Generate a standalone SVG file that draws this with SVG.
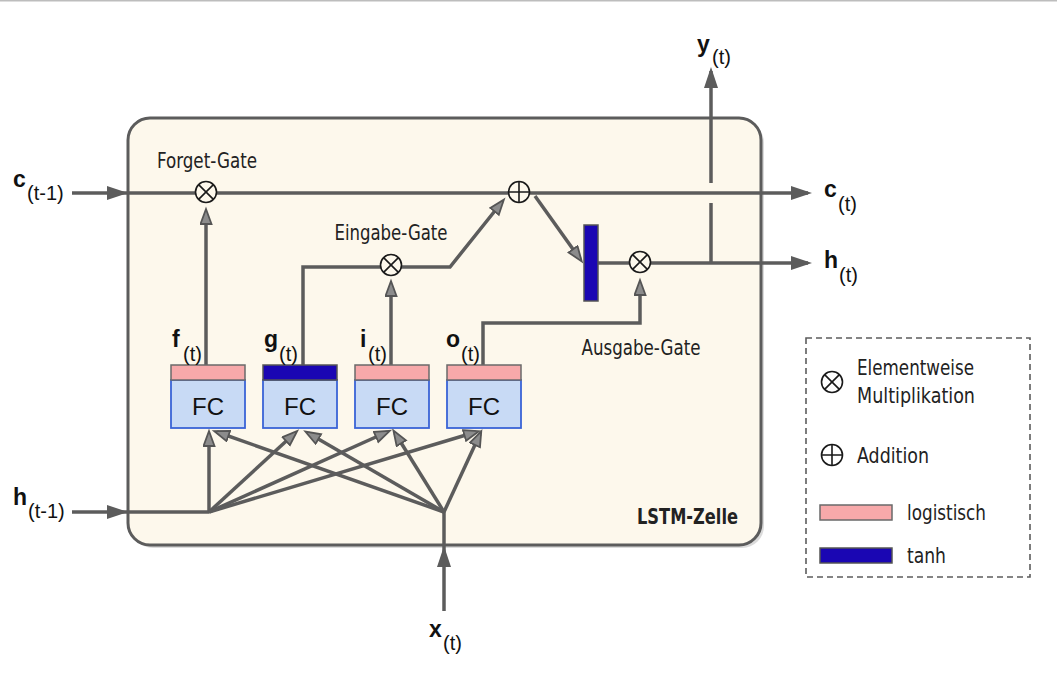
<svg xmlns="http://www.w3.org/2000/svg" width="1057" height="688" viewBox="0 0 1057 688">
  <style>
    .wire { fill: none; stroke: #5c5c5c; stroke-width: 3.5; stroke-linejoin: miter; }
    .op { fill: #fdf8ec; stroke: #1a1a1a; stroke-width: 1.6; }
    .opw { fill: #ffffff; stroke: #1a1a1a; stroke-width: 1.6; }
    .sym { stroke: #1a1a1a; stroke-width: 1.6; }
    .gate { font-family: "Liberation Sans Narrow", "DejaVu Sans Condensed", "Liberation Sans", sans-serif; font-size: 21px; fill: #222; }
    .var { font-family: "Liberation Sans", Arial, sans-serif; font-size: 23px; font-weight: bold; fill: #111; }
    .sub { font-family: "Liberation Sans", Arial, sans-serif; font-size: 20px; fill: #111; }
    .fc { font-family: "Liberation Sans", Arial, sans-serif; font-size: 24px; fill: #111; text-anchor: middle; }
    .band-sig { fill: #f7a9aa; stroke: #6a6a6a; stroke-width: 1.5; }
    .band-tanh { fill: #1a06b3; stroke: #555; stroke-width: 1.5; }
    .body { fill: #c8daf5; stroke: #3a63d6; stroke-width: 1.8; }
  </style>
  <defs>
    <marker id="arrowOut" markerUnits="userSpaceOnUse" markerWidth="22" markerHeight="16" refX="17" refY="7" orient="auto">
      <path d="M0,0 L21,7 L0,14 z" fill="#5c5c5c"/>
    </marker>
    <marker id="arrowIn" markerUnits="userSpaceOnUse" markerWidth="20" markerHeight="16" refX="13" refY="6.5" orient="auto">
      <path d="M1,1 L16,6.5 L1,12 z" fill="#8c8c8c" stroke="#555" stroke-width="1.8" stroke-linejoin="miter"/>
    </marker>
  </defs>

  <rect width="1057" height="688" fill="#ffffff"/>
  <line x1="0" y1="0.8" x2="1057" y2="0.8" stroke="#bdbdbd" stroke-width="1.6"/>

  <!-- LSTM cell body -->
  <g id="cell">
    <rect x="131" y="121" width="633" height="427" rx="22" fill="#b8b8b8" opacity="0.5"/>
    <rect x="128" y="118" width="633" height="427" rx="22" fill="#fdf8ec" stroke="#5c5c5c" stroke-width="3"/>
    <text x="738" y="524" text-anchor="end" class="gate" style="font-weight:bold" textLength="101" lengthAdjust="spacingAndGlyphs">LSTM-Zelle</text>
  </g>

  <!-- connectors -->
  <g id="connectors">
    <!-- cell state -->
    <line class="wire" x1="72" y1="193" x2="124" y2="193" marker-end="url(#arrowOut)"/>
    <line class="wire" x1="124" y1="193" x2="519" y2="193"/>
    <line class="wire" x1="519" y1="193" x2="808" y2="193" marker-end="url(#arrowOut)"/>
    <!-- hidden state in -->
    <line class="wire" x1="72" y1="512" x2="124" y2="512" marker-end="url(#arrowOut)"/>
    <line class="wire" x1="124" y1="512" x2="209" y2="512"/>
    <!-- input x -->
    <line class="wire" x1="444" y1="611" x2="444" y2="550" marker-end="url(#arrowOut)"/>
    <line class="wire" x1="444" y1="550" x2="444" y2="512"/>
    <!-- fan-out from h(t-1) -->
    <line class="wire" x1="209" y1="512" x2="209" y2="434" marker-end="url(#arrowIn)"/>
    <line class="wire" x1="209" y1="512" x2="295" y2="433" marker-end="url(#arrowIn)"/>
    <line class="wire" x1="209" y1="512" x2="387" y2="432" marker-end="url(#arrowIn)"/>
    <line class="wire" x1="209" y1="512" x2="476" y2="432" marker-end="url(#arrowIn)"/>
    <!-- fan-out from x(t) -->
    <line class="wire" x1="444" y1="512" x2="217" y2="432" marker-end="url(#arrowIn)"/>
    <line class="wire" x1="444" y1="512" x2="308" y2="433" marker-end="url(#arrowIn)"/>
    <line class="wire" x1="444" y1="512" x2="395" y2="433" marker-end="url(#arrowIn)"/>
    <line class="wire" x1="444" y1="512" x2="480" y2="434" marker-end="url(#arrowIn)"/>
    <!-- forget gate -->
    <line class="wire" x1="206" y1="365" x2="206" y2="212" marker-end="url(#arrowIn)"/>
    <!-- g path to input gate -->
    <polyline class="wire" points="303,365 303,267 450,267 502,202" marker-end="url(#arrowIn)"/>
    <!-- input gate -->
    <line class="wire" x1="391" y1="365" x2="391" y2="284" marker-end="url(#arrowIn)"/>
    <!-- output gate -->
    <polyline class="wire" points="483,365 483,323 640,323 640,283" marker-end="url(#arrowIn)"/>
    <!-- cell state to tanh -->
    <line class="wire" x1="535" y1="196" x2="580" y2="259" marker-end="url(#arrowIn)"/>
    <!-- hidden state out -->
    <line class="wire" x1="598" y1="263" x2="808" y2="263" marker-end="url(#arrowOut)"/>
    <!-- output y -->
    <line class="wire" x1="711" y1="263" x2="711" y2="203"/>
    <line class="wire" x1="711" y1="183" x2="711" y2="71" marker-end="url(#arrowOut)"/>
  </g>

  <!-- operators -->
  <g id="forget-mul">
    <circle class="op" cx="206" cy="192" r="10.5"/>
    <path class="sym" d="M198.6,184.6 L213.4,199.4 M213.4,184.6 L198.6,199.4"/>
    <text x="207" y="168" text-anchor="middle" class="gate" textLength="100" lengthAdjust="spacingAndGlyphs">Forget-Gate</text>
  </g>
  <g id="input-mul">
    <circle class="op" cx="391" cy="265" r="10.5"/>
    <path class="sym" d="M383.6,257.6 L398.4,272.4 M398.4,257.6 L383.6,272.4"/>
    <text x="391" y="240" text-anchor="middle" class="gate" textLength="113" lengthAdjust="spacingAndGlyphs">Eingabe-Gate</text>
  </g>
  <g id="add">
    <circle class="op" cx="519" cy="192" r="10.5"/>
    <path class="sym" d="M508.5,192 L529.5,192 M519,181.5 L519,202.5"/>
  </g>
  <g id="tanh-bar">
    <rect x="584" y="225" width="14" height="76" class="band-tanh"/>
  </g>
  <g id="output-mul">
    <circle class="op" cx="640" cy="262" r="10.5"/>
    <path class="sym" d="M632.6,254.6 L647.4,269.4 M647.4,254.6 L632.6,269.4"/>
    <text x="641" y="355" text-anchor="middle" class="gate" textLength="119" lengthAdjust="spacingAndGlyphs">Ausgabe-Gate</text>
  </g>

  <!-- fully connected layers -->
  <g id="fc-f">
    <rect x="171" y="380" width="74" height="48" class="body"/>
    <rect x="171" y="365" width="74" height="15" class="band-sig"/>
    <text x="208" y="415" class="fc">FC</text>
    <text x="172" y="347" class="var">f</text><text x="183" y="361" class="sub">(t)</text>
  </g>
  <g id="fc-g">
    <rect x="263" y="380" width="74" height="48" class="body"/>
    <rect x="263" y="365" width="74" height="15" class="band-tanh"/>
    <text x="300" y="415" class="fc">FC</text>
    <text x="264" y="347" class="var">g</text><text x="279" y="361" class="sub">(t)</text>
  </g>
  <g id="fc-i">
    <rect x="355" y="380" width="74" height="48" class="body"/>
    <rect x="355" y="365" width="74" height="15" class="band-sig"/>
    <text x="392" y="415" class="fc">FC</text>
    <text x="360" y="347" class="var">i</text><text x="368" y="361" class="sub">(t)</text>
  </g>
  <g id="fc-o">
    <rect x="447" y="380" width="74" height="48" class="body"/>
    <rect x="447" y="365" width="74" height="15" class="band-sig"/>
    <text x="484" y="415" class="fc">FC</text>
    <text x="446" y="347" class="var">o</text><text x="461" y="361" class="sub">(t)</text>
  </g>

  <!-- external signals -->
  <g id="c-prev"><text x="13" y="187" class="var">c</text><text x="27" y="200" class="sub">(t-1)</text></g>
  <g id="h-prev"><text x="13" y="505" class="var">h</text><text x="28" y="518" class="sub">(t-1)</text></g>
  <g id="c-next"><text x="824" y="197" class="var">c</text><text x="838" y="211" class="sub">(t)</text></g>
  <g id="h-next"><text x="824" y="268" class="var">h</text><text x="839" y="282" class="sub">(t)</text></g>
  <g id="y-out"><text x="697" y="52" class="var">y</text><text x="712" y="64" class="sub">(t)</text></g>
  <g id="x-in"><text x="429" y="637" class="var">x</text><text x="443" y="650" class="sub">(t)</text></g>

  <!-- legend -->
  <g id="legend">
    <rect x="806" y="338" width="224" height="239" fill="#ffffff" stroke="#5c5c5c" stroke-width="1.6" stroke-dasharray="6,4"/>
    <circle class="opw" cx="832" cy="382" r="10.5"/>
    <path class="sym" d="M824.6,374.6 L839.4,389.4 M839.4,374.6 L824.6,389.4"/>
    <text x="857" y="375" class="gate" textLength="117" lengthAdjust="spacingAndGlyphs">Elementweise</text>
    <text x="857" y="403" class="gate" textLength="118" lengthAdjust="spacingAndGlyphs">Multiplikation</text>
    <circle class="opw" cx="832" cy="455" r="10.5"/>
    <path class="sym" d="M821.5,455 L842.5,455 M832,444.5 L832,465.5"/>
    <text x="857" y="463" class="gate" textLength="72" lengthAdjust="spacingAndGlyphs">Addition</text>
    <rect x="820" y="505" width="72" height="15" class="band-sig"/>
    <text x="907" y="520" class="gate" textLength="79" lengthAdjust="spacingAndGlyphs">logistisch</text>
    <rect x="820" y="548" width="72" height="15" class="band-tanh"/>
    <text x="907" y="563" class="gate" textLength="39" lengthAdjust="spacingAndGlyphs">tanh</text>
  </g>
</svg>
